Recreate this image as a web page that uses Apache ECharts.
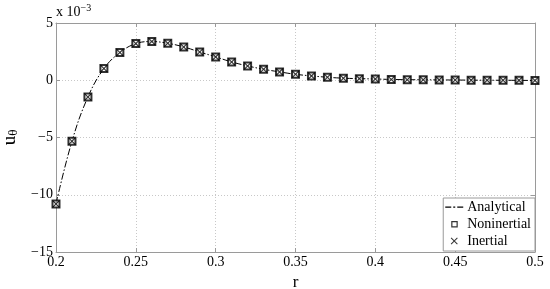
<!DOCTYPE html>
<html>
<head>
<meta charset="utf-8">
<script src="https://cdn.jsdelivr.net/npm/echarts@6/dist/echarts.min.js"></script>
<style>
html, body { margin: 0; padding: 0; background: #fff; }
#chart { width: 550px; height: 289px; }
</style>
</head>
<body>
<div id="chart"></div>
<script>
// r values and u_theta (x 10^-3)
var rValues = [0.20, 0.21, 0.22, 0.23, 0.24, 0.25, 0.26, 0.27, 0.28, 0.29,
    0.30, 0.31, 0.32, 0.33, 0.34, 0.35, 0.36, 0.37, 0.38, 0.39,
    0.40, 0.41, 0.42, 0.43, 0.44, 0.45, 0.46, 0.47, 0.48, 0.49, 0.50];
var analytical = [-10.8, -5.33, -1.46, 1.02, 2.42, 3.2, 3.38, 3.23, 2.91, 2.47,
    2.04, 1.6, 1.25, 0.96, 0.73, 0.52, 0.38, 0.26, 0.18, 0.14,
    0.11, 0.07, 0.05, 0.04, 0.03, 0.02, 0.01, 0.0, 0.0, -0.01, -0.02];
var noninertial = analytical.slice();
var inertial = analytical.slice();
var xTicks = [0.2, 0.25, 0.3, 0.35, 0.4, 0.45, 0.5];
var yTicks = [-15, -10, -5, 0, 5];

var serif = "'Liberation Serif', 'Times New Roman', serif";
var crossPath = 'path://M0,1L1,0L5,4L9,0L10,1L6,5L10,9L9,10L5,6L1,10L0,9L4,5Z';
// legend icons in a 20x10 box (tiny specks at the corners fix the box)
var specks = 'M0,0h0.01v0.01h-0.01z M19.99,9.99h0.01v0.01h-0.01z ';
var dashDotIcon = 'path://' + specks + 'M0,4.5h6v1.2h-6z M8,4.5h2v1.2h-2z M12,4.5h6v1.2h-6z';
var squareIcon = 'path://' + specks + 'M6,2h6.5v6.5h-6.5z M7.2,3.2v4.1h4.1v-4.1z';
var crossIcon = 'path://' + specks + 'M5.5,2.2L6.2,1.5L9,4.3L11.8,1.5L12.5,2.2L9.7,5L12.5,7.8L11.8,8.5L9,5.7L6.2,8.5L5.5,7.8L8.3,5Z';

function pairs(ys) {
    return rValues.map(function(r, i) { return [r, ys[i]]; });
}

var chart = echarts.init(document.getElementById('chart'));

var gridStyle = { show: true, lineStyle: { type: [1, 2], color: '#c8c8c8', width: 1 } };
var axisLine = { show: true, onZero: false, lineStyle: { color: '#9a9a9a' } };
var tick = { show: true, inside: true, length: 4, lineStyle: { color: '#9a9a9a' } };

var option = {
    animation: false,
    grid: { left: 56, right: 15, top: 23, bottom: 37, outerBoundsMode: 'none', containLabel: false },
    graphic: [{
        type: 'text', left: 56, top: 3,
        style: {
            text: '{a|x 10}{b|−3}',
            rich: {
                a: { fontFamily: serif, fontSize: 14, fill: '#000' },
                b: { fontFamily: serif, fontSize: 10, fill: '#000', padding: [0, 0, 9, 0] }
            }
        }
    }],
    legend: {
        orient: 'vertical',
        right: 15, bottom: 38,
        padding: [2, 4, 3, 2],
        itemGap: 3,
        itemWidth: 20, itemHeight: 10,
        backgroundColor: '#fff',
        borderColor: '#9a9a9a', borderWidth: 1, borderRadius: 0,
        textStyle: { fontFamily: serif, fontSize: 14, color: '#000', padding: [0, 0, 0, -3] },
        data: [
            { name: 'Analytical', icon: dashDotIcon, itemStyle: { color: '#000' } },
            { name: 'Noninertial', icon: squareIcon, itemStyle: { color: '#000', borderWidth: 0 } },
            { name: 'Inertial', icon: crossIcon, itemStyle: { color: '#000' } }
        ]
    },
    xAxis: [{
        type: 'value', min: 0.2, max: 0.5, interval: 0.05,
        name: 'r', nameLocation: 'middle', nameGap: 19,
        nameTextStyle: { fontFamily: serif, fontSize: 17, color: '#000' },
        axisLine: axisLine, axisTick: tick, splitLine: gridStyle,
        axisLabel: {
            fontFamily: serif, fontSize: 14, color: '#000', margin: 3,
            formatter: function(v) { return String(Math.round(v * 100) / 100); }
        }
    }, {
        type: 'value', position: 'top', min: 0.2, max: 0.5, interval: 0.05,
        axisLine: axisLine, axisTick: tick, splitLine: { show: false },
        axisLabel: { show: false }
    }],
    yAxis: [{
        type: 'value', min: -15, max: 5, interval: 5,
        name: '{u|u}{s|θ}', nameLocation: 'middle', nameGap: 35,
        nameTextStyle: {
            rich: {
                u: { fontFamily: serif, fontSize: 19, color: '#000' },
                s: { fontFamily: serif, fontSize: 13, color: '#000', padding: [8, 0, 0, 0] }
            }
        },
        axisLine: axisLine, axisTick: tick, splitLine: gridStyle,
        axisLabel: {
            fontFamily: serif, fontSize: 14, color: '#000', margin: 3,
            formatter: function(v) { return String(v).replace('-', '−'); }
        }
    }, {
        type: 'value', position: 'right', min: -15, max: 5, interval: 5,
        axisLine: axisLine, axisTick: tick, splitLine: { show: false },
        axisLabel: { show: false }
    }],
    series: [{
        name: 'Analytical',
        type: 'line',
        smooth: 0.4,
        showSymbol: false,
        symbol: 'none',
        data: pairs(analytical),
        lineStyle: { color: '#000', width: 1, type: [7, 2, 1.5, 2] },
        itemStyle: { color: '#000' },
        z: 2
    }, {
        name: 'Noninertial',
        type: 'scatter',
        symbol: 'emptyRect',
        symbolSize: 7,
        data: pairs(noninertial),
        itemStyle: { color: '#000', borderColor: '#000', borderWidth: 1 },
        z: 3
    }, {
        name: 'Inertial',
        type: 'scatter',
        symbol: crossPath,
        symbolSize: 8,
        data: pairs(inertial),
        itemStyle: { color: '#000' },
        z: 4
    }]
};

chart.setOption(option);
</script>
</body>
</html>
